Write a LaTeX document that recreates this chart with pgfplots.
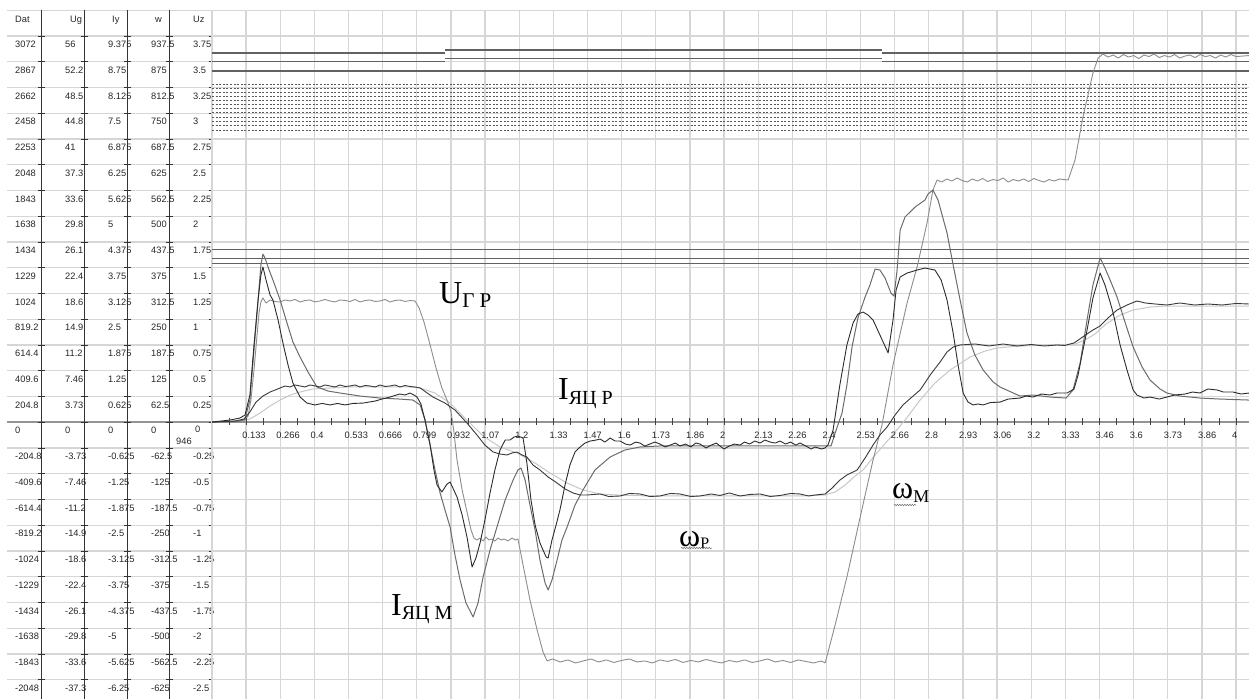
\documentclass[border=0pt]{standalone}
\usepackage{pgfplots}
\pgfplotsset{compat=1.18}
\usepackage{pgfplotstable}
\usepackage{fontspec}
\setmainfont{Liberation Sans}
\newfontfamily\serif{Liberation Serif}
\usetikzlibrary{decorations.pathmorphing}
\definecolor{cUg}{gray}{0.55}
\definecolor{cIm}{gray}{0.42}
\definecolor{cIr}{gray}{0.17}
\definecolor{cWr}{gray}{0.22}
\definecolor{cWm}{gray}{0.78}
\definecolor{gridc}{gray}{0.84}
\definecolor{zeroc}{gray}{0.58}
\definecolor{refl}{gray}{0.38}
\definecolor{txt}{gray}{0.15}

\pgfplotstableread{
t D
0 2
0.070 2
0.125 10
0.141 50
0.152 177
0.164 416
0.176 694
0.184 877
0.191 957
0.199 989
0.211 949
0.227 973
0.246 960
0.266 957
0.285 973
0.305 965
0.324 977
0.344 957
0.363 969
0.383 973
0.402 957
0.422 965
0.441 977
0.461 965
0.480 957
0.500 973
0.520 969
0.539 961
0.559 977
0.578 957
0.598 969
0.617 973
0.637 961
0.656 965
0.676 977
0.695 957
0.715 969
0.734 973
0.754 961
0.773 969
0.793 965
0.809 909
0.828 798
0.852 615
0.875 432
0.898 273
0.918 177
0.934 82
0.945 -77
0.957 -300
0.977 -538
0.996 -713
1.012 -857
1.023 -920
1.035 -936
1.047 -920
1.059 -944
1.070 -912
1.082 -936
1.094 -928
1.105 -944
1.117 -920
1.129 -936
1.141 -928
1.156 -944
1.172 -920
1.184 -936
1.195 -928
1.219 -1175
1.242 -1413
1.270 -1652
1.293 -1827
1.309 -1898
1.33 -1882
1.36 -1906
1.39 -1890
1.42 -1914
1.45 -1898
1.48 -1882
1.51 -1906
1.54 -1890
1.57 -1910
1.60 -1894
1.63 -1882
1.66 -1906
1.69 -1898
1.72 -1914
1.75 -1890
1.78 -1902
1.81 -1886
1.84 -1910
1.87 -1894
1.90 -1906
1.93 -1886
1.96 -1902
1.99 -1914
2.02 -1894
2.05 -1906
2.08 -1890
2.11 -1910
2.14 -1898
2.17 -1882
2.20 -1906
2.23 -1894
2.26 -1910
2.29 -1890
2.32 -1902
2.35 -1914
2.38 -1898
2.395 -1914
2.434 -1612
2.480 -1230
2.531 -761
2.582 -300
2.617 -21
2.660 456
2.715 949
2.754 1235
2.793 1585
2.816 1847
2.832 1927
2.85 1911
2.87 1935
2.89 1919
2.91 1943
2.93 1923
2.95 1911
2.97 1935
2.99 1919
3.01 1939
3.03 1915
3.05 1931
3.07 1923
3.09 1943
3.11 1911
3.13 1931
3.15 1919
3.17 1935
3.19 1915
3.21 1939
3.23 1923
3.25 1911
3.27 1931
3.29 1919
3.31 1935
3.344 1927
3.371 2086
3.402 2428
3.441 2778
3.461 2897
3.48 2929
3.50 2905
3.52 2921
3.54 2897
3.56 2925
3.58 2905
3.60 2917
3.62 2893
3.64 2921
3.66 2909
3.68 2929
3.70 2901
3.72 2917
3.74 2905
3.76 2925
3.78 2897
3.80 2913
3.82 2921
3.84 2901
3.86 2925
3.88 2909
3.90 2917
3.92 2897
3.94 2921
3.96 2905
3.98 2925
4.00 2909
4.051 2917
}\ugr

\pgfplotstableread{
t D
0 2
0.109 10
0.129 26
0.148 177
0.164 575
0.180 973
0.191 1251
0.199 1338
0.207 1307
0.223 1211
0.238 1132
0.266 973
0.293 790
0.316 639
0.344 519
0.375 400
0.410 281
0.453 249
0.500 233
0.578 209
0.656 193
0.734 185
0.785 177
0.813 138
0.832 18
0.852 -181
0.871 -379
0.891 -562
0.910 -697
0.930 -833
0.949 -1055
0.969 -1254
0.992 -1437
1.020 -1548
1.039 -1437
1.059 -1230
1.086 -1016
1.113 -833
1.145 -618
1.176 -459
1.195 -379
1.207 -363
1.223 -459
1.242 -658
1.262 -857
1.281 -1095
1.301 -1278
1.313 -1334
1.328 -1254
1.348 -1095
1.367 -936
1.387 -833
1.418 -658
1.449 -538
1.496 -379
1.555 -276
1.613 -220
1.672 -196
1.75 -188
2.0 -188
2.2 -188
2.418 -188
2.438 -61
2.461 74
2.480 297
2.500 599
2.523 830
2.551 997
2.570 1092
2.590 1219
2.609 1211
2.629 1148
2.652 1028
2.664 1004
2.676 1211
2.688 1529
2.707 1633
2.746 1712
2.785 1768
2.797 1816
2.816 1847
2.836 1768
2.855 1625
2.871 1506
2.895 1251
2.922 973
2.949 710
2.980 535
3.012 416
3.051 321
3.078 281
3.156 209
3.207 217
3.273 201
3.336 193
3.363 257
3.391 472
3.418 814
3.441 1092
3.469 1307
3.488 1227
3.508 1132
3.535 997
3.566 798
3.598 599
3.633 440
3.664 336
3.703 265
3.730 233
3.781 209
3.859 193
3.938 185
4.051 177
}\iym

\pgfplotstableread{
t D
0 2
0.070 18
0.109 34
0.129 58
0.148 217
0.164 615
0.180 973
0.191 1171
0.199 1235
0.211 1132
0.227 1012
0.238 973
0.258 814
0.277 631
0.297 456
0.316 313
0.344 201
0.371 153
0.402 138
0.43 150
0.461 138
0.49 150
0.520 138
0.55 150
0.590 153
0.637 169
0.664 185
0.695 201
0.72 217
0.734 225
0.754 217
0.773 233
0.789 217
0.801 201
0.816 146
0.832 18
0.852 -181
0.867 -379
0.879 -499
0.898 -554
0.918 -491
0.930 -475
0.941 -523
0.957 -594
0.977 -737
0.996 -912
1.008 -1055
1.016 -1151
1.031 -1079
1.047 -960
1.066 -777
1.086 -562
1.105 -379
1.125 -220
1.145 -141
1.164 -141
1.180 -117
1.195 -109
1.215 -125
1.230 -324
1.246 -618
1.262 -817
1.281 -960
1.305 -1071
1.313 -1079
1.328 -936
1.344 -817
1.359 -697
1.379 -499
1.398 -340
1.418 -236
1.438 -196
1.457 -165
1.477 -149
1.5 -141
1.516 -133
1.535 -157
1.555 -125
1.575 -149
1.594 -149
1.615 -173
1.633 -181
1.655 -157
1.672 -165
1.69 -189
1.710 -173
1.73 -157
1.750 -173
1.77 -196
1.79 -181
1.81 -165
1.828 -188
1.85 -173
1.87 -196
1.89 -165
1.906 -173
1.93 -204
1.95 -181
1.97 -165
1.984 -188
2.00 -212
2.02 -189
2.04 -173
2.063 -181
2.08 -157
2.10 -173
2.12 -149
2.141 -165
2.16 -141
2.18 -157
2.20 -165
2.219 -149
2.24 -173
2.26 -157
2.28 -181
2.297 -165
2.32 -189
2.34 -212
2.356 -196
2.38 -212
2.395 -204
2.406 -181
2.426 -61
2.453 305
2.480 615
2.504 790
2.523 861
2.543 877
2.563 853
2.582 814
2.609 694
2.641 551
2.660 814
2.672 1052
2.688 1156
2.715 1187
2.754 1211
2.785 1227
2.824 1211
2.848 1132
2.871 973
2.895 710
2.914 456
2.934 233
2.953 161
2.973 138
2.992 146
3.012 138
3.04 157
3.078 161
3.11 185
3.156 193
3.18 209
3.207 201
3.24 225
3.273 217
3.30 233
3.340 233
3.367 265
3.383 376
3.398 535
3.418 734
3.441 989
3.469 1187
3.488 1092
3.508 956
3.520 869
3.547 615
3.574 416
3.598 257
3.613 217
3.64 193
3.664 201
3.70 185
3.730 201
3.76 217
3.801 225
3.83 241
3.859 233
3.89 265
3.926 257
3.95 241
3.988 241
4.02 225
4.051 233
}\iyr

\pgfplotstableread{
t D
0 2
0.09 10
0.125 26
0.148 82
0.172 161
0.199 209
0.227 241
0.266 273
0.285 289
0.305 281
0.324 297
0.344 289
0.363 281
0.383 297
0.402 289
0.422 281
0.441 297
0.461 289
0.480 281
0.500 297
0.520 285
0.539 289
0.559 297
0.578 281
0.598 293
0.617 289
0.637 281
0.656 297
0.676 285
0.695 289
0.715 297
0.734 281
0.754 293
0.773 285
0.793 281
0.813 273
0.863 201
0.910 153
0.949 98
0.996 -6
1.035 -101
1.066 -181
1.098 -236
1.125 -252
1.152 -260
1.172 -244
1.191 -236
1.211 -260
1.230 -276
1.254 -340
1.281 -379
1.313 -435
1.348 -483
1.379 -530
1.410 -562
1.438 -578
1.465 -578
1.516 -570
1.55 -590
1.594 -586
1.63 -566
1.672 -570
1.71 -590
1.750 -586
1.79 -566
1.828 -570
1.87 -590
1.906 -586
1.95 -570
1.984 -582
2.02 -562
2.063 -586
2.10 -574
2.141 -570
2.18 -590
2.219 -582
2.26 -566
2.297 -570
2.33 -586
2.356 -578
2.395 -570
2.422 -523
2.453 -459
2.480 -419
2.520 -379
2.551 -284
2.582 -181
2.609 -101
2.637 -37
2.668 58
2.699 138
2.734 201
2.766 257
2.805 376
2.844 480
2.871 559
2.895 599
2.922 615
2.98 623
3.035 607
3.09 623
3.145 607
3.20 619
3.25 607
3.301 615
3.33 611
3.367 631
3.406 686
3.441 734
3.469 766
3.500 830
3.535 893
3.574 933
3.613 965
3.645 949
3.684 941
3.730 933
3.78 949
3.838 933
3.89 941
3.945 933
4.0 945
4.051 941
}\wr

\pgfplotstableread{
t D
0 2
0.109 10
0.148 26
0.188 74
0.227 130
0.266 177
0.305 217
0.344 241
0.395 265
0.461 273
0.539 281
0.656 281
0.773 281
0.813 273
0.871 233
0.930 153
0.988 34
1.059 -109
1.125 -196
1.191 -244
1.262 -324
1.320 -403
1.387 -483
1.449 -538
1.516 -570
1.582 -578
1.711 -586
1.906 -586
2.102 -586
2.297 -586
2.395 -578
2.434 -554
2.473 -499
2.512 -427
2.543 -379
2.590 -260
2.648 -125
2.707 18
2.766 177
2.824 313
2.883 416
2.961 519
3.020 567
3.066 591
3.156 607
3.273 615
3.371 623
3.410 655
3.449 702
3.492 782
3.547 853
3.598 893
3.664 917
3.730 925
3.859 925
4.051 925
}\wm

\tikzset{tl/.style={anchor=base west, inner sep=0pt, font=\fontsize{9.3}{10}\selectfont, text=txt}}
\newcommand\trow[6]{%
  \pgfmathsetmacro\yy{265.05+25.75*#1}%
  \node[tl] at (15,\yy) {#2};%
  \node[tl] at (65,\yy) {#3};%
  \node[tl] at (108,\yy) {#4};%
  \node[tl] at (151,\yy) {#5};%
  \node[tl] at (193,\yy) {#6};}

\begin{document}
\begin{tikzpicture}[x=1pt,y=1pt]
\path[use as bounding box] (0,0) rectangle (1249,699);
% ---- left table ----
\foreach \k in {-10,...,16} {\draw[gridc, line width=1.3pt] (7,{276.7+25.75*\k}) -- (212,{276.7+25.75*\k});}
\draw[zeroc, line width=2pt] (7,276.7) -- (212,276.7);
\foreach \x in {41,84,127,169,212} {\draw[black!80, line width=0.9pt] (\x,0) -- (\x,688.7);}
\foreach \x in {41,84,127,169,212} {\foreach \k in {-10,...,15} {\draw[black!80, line width=0.8pt] (\x-3.5,{276.7+25.75*\k}) -- (\x+3.5,{276.7+25.75*\k});}}
\node[tl] at (15,676.6) {Dat};
\node[tl] at (70,676.6) {Ug};
\node[tl] at (112,676.6) {Iy};
\node[tl] at (155,676.6) {w};
\node[tl] at (193,676.6) {Uz};
\trow{15}{3072}{56}{9.375}{937.5}{3.75}
\trow{14}{2867}{52.2}{8.75}{875}{3.5}
\trow{13}{2662}{48.5}{8.125}{812.5}{3.25}
\trow{12}{2458}{44.8}{7.5}{750}{3}
\trow{11}{2253}{41}{6.875}{687.5}{2.75}
\trow{10}{2048}{37.3}{6.25}{625}{2.5}
\trow{9}{1843}{33.6}{5.625}{562.5}{2.25}
\trow{8}{1638}{29.8}{5}{500}{2}
\trow{7}{1434}{26.1}{4.375}{437.5}{1.75}
\trow{6}{1229}{22.4}{3.75}{375}{1.5}
\trow{5}{1024}{18.6}{3.125}{312.5}{1.25}
\trow{4}{819.2}{14.9}{2.5}{250}{1}
\trow{3}{614.4}{11.2}{1.875}{187.5}{0.75}
\trow{2}{409.6}{7.46}{1.25}{125}{0.5}
\trow{1}{204.8}{3.73}{0.625}{62.5}{0.25}
\node[tl] at (15,265.05) {0};
\node[tl] at (65,265.05) {0};
\node[tl] at (108,265.05) {0};
\node[tl] at (151,265.05) {0};
\node[tl] at (195,266) {0};
\node[tl] at (176,254.5) {946};
\trow{-1}{-204.8}{-3.73}{-0.625}{-62.5}{-0.25}
\trow{-2}{-409.6}{-7.46}{-1.25}{-125}{-0.5}
\trow{-3}{-614.4}{-11.2}{-1.875}{-187.5}{-0.75}
\trow{-4}{-819.2}{-14.9}{-2.5}{-250}{-1}
\trow{-5}{-1024}{-18.6}{-3.125}{-312.5}{-1.25}
\trow{-6}{-1229}{-22.4}{-3.75}{-375}{-1.5}
\trow{-7}{-1434}{-26.1}{-4.375}{-437.5}{-1.75}
\trow{-8}{-1638}{-29.8}{-5}{-500}{-2}
\trow{-9}{-1843}{-33.6}{-5.625}{-562.5}{-2.25}
\trow{-10}{-2048}{-37.3}{-6.25}{-625}{-2.5}
% ---- plot ----
\begin{axis}[at={(212pt,0pt)}, anchor=south west, scale only axis,
  width=1037pt, height=688.7pt,
  xmin=0, xmax=4.05078, ymin=-2200.6, ymax=3276.9,
  axis line style={draw=none}, tick style={draw=none},
  xtick distance=0.1333333, ytick distance=204.8,
  xticklabels={,,}, yticklabels={,,},
  grid=major, major grid style={gridc, line width=1.3pt},
  every axis plot/.append style={line join=round}]
\draw[zeroc, line width=2pt] (axis cs:0,0) -- (axis cs:4.06,0);
% reference lines
\addplot[refl, line width=1.1pt] coordinates {(0,2937) (0.910,2937)};
\addplot[refl, line width=1.1pt] coordinates {(0,2868) (0.910,2868)};
\addplot[refl, line width=1.3pt] coordinates {(0.910,2961) (2.616,2961)};
\addplot[refl, line width=1.1pt] coordinates {(0.910,2892) (2.616,2892)};
\addplot[refl, line width=1.1pt] coordinates {(2.616,2937) (4.051,2937)};
\addplot[refl, line width=1.1pt] coordinates {(2.616,2868) (4.051,2868)};
\addplot[refl, line width=1.1pt] coordinates {(0,2794) (4.051,2794)};
\pgfplotsinvokeforeach{2690,2659,2627,2595,2563,2531,2500,2468,2428,2396,2360,2325}{
  \addplot[black!65, line width=0.8pt, dash pattern=on 2pt off 1.6pt] coordinates {(0,#1) (4.051,#1)};}
\addplot[refl, line width=1.1pt] coordinates {(0,1374) (4.051,1374)};
\addplot[refl, line width=1.1pt] coordinates {(0,1304) (4.051,1304)};
\addplot[refl, line width=1.1pt] coordinates {(0,1265) (4.051,1265)};
% curves
\addplot[cWm, line width=1pt] table[x=t,y=D] {\wm};
\addplot[cUg, line width=0.9pt] table[x=t,y=D] {\ugr};
\addplot[cIm, line width=1pt] table[x=t,y=D] {\iym};
\addplot[cWr, line width=0.9pt] table[x=t,y=D] {\wr};
\addplot[cIr, line width=0.9pt] table[x=t,y=D] {\iyr};
\end{axis}
% ---- axis ticks and labels on zero line ----
\foreach \k in {1,...,60} {\draw[black!75, line width=0.8pt] ({212+17.0667*\k},280.7) -- ({212+17.0667*\k},274);}
\foreach \k/\l in {1/0.133,2/0.266,3/0.4,4/0.533,5/0.666,6/0.799,7/0.932,8/1.07,9/1.2,10/1.33,11/1.47,12/1.6,13/1.73,14/1.86,15/2,16/2.13,17/2.26,18/2.4,19/2.53,20/2.66,21/2.8,22/2.93,23/3.06,24/3.2,25/3.33,26/3.46,27/3.6,28/3.73,29/3.86,30/4}
  {\node[tl] at ({212+34.1333*\k-4},260) {\l};}
% ---- curve labels ----
\node[anchor=base west, inner sep=0pt] at (439,395.7) {\serif\fontsize{32}{32}\selectfont U\raisebox{-4pt}{\fontsize{21}{21}\selectfont Г Р}};
\node[anchor=base west, inner sep=0pt] at (558,299) {\serif\fontsize{32}{32}\selectfont I\raisebox{-5pt}{\fontsize{20}{20}\selectfont ЯЦ Р}};
\node[anchor=base west, inner sep=0pt] at (391,84) {\serif\fontsize{32}{32}\selectfont I\raisebox{-4pt}{\fontsize{20}{20}\selectfont ЯЦ М}};
\node[anchor=base west, inner sep=0pt] at (679,152.3) {\serif\fontsize{32}{32}\selectfont ω\raisebox{-1.5pt}{\fontsize{16}{16}\selectfont Р}};
\node[anchor=base west, inner sep=0pt] at (892,201) {\serif\fontsize{32}{32}\selectfont ω\raisebox{-5pt}{\fontsize{18}{18}\selectfont М}};
\draw[black!55, line width=0.5pt, decorate, decoration={snake, amplitude=0.8pt, segment length=2.5pt}] (681,151) -- (712,151);
\draw[black!55, line width=0.5pt, decorate, decoration={snake, amplitude=0.8pt, segment length=2.5pt}] (894,194) -- (916,194);
\end{tikzpicture}
\end{document}
